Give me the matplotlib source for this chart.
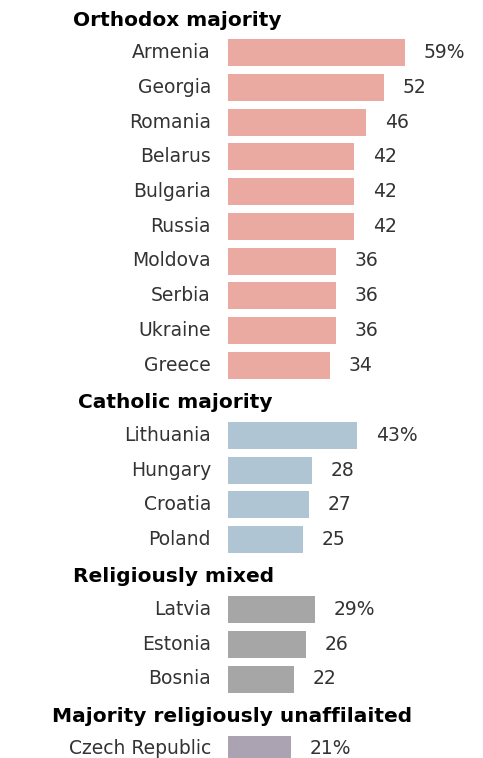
import matplotlib.pyplot as plt

# Share of adults in each country (percent), grouped by religious makeup
groups = ["Orthodox majority", "Catholic majority", "Religiously mixed",
          "Majority religiously unaffilaited"]
orthodox_countries = ["Armenia", "Georgia", "Romania", "Belarus", "Bulgaria",
                      "Russia", "Moldova", "Serbia", "Ukraine", "Greece"]
orthodox_values = [59, 52, 46, 42, 42, 42, 36, 36, 36, 34]
catholic_countries = ["Lithuania", "Hungary", "Croatia", "Poland"]
catholic_values = [43, 28, 27, 25]
mixed_countries = ["Latvia", "Estonia", "Bosnia"]
mixed_values = [29, 26, 22]
unaffiliated_countries = ["Czech Republic"]
unaffiliated_values = [21]

colors = ["#eaa9a1", "#afc5d4", "#a6a6a6", "#aba3b2"]
header_x = [-51.7, -50.0, -51.7, -58.7]

sections = [
    (orthodox_countries, orthodox_values),
    (catholic_countries, catholic_values),
    (mixed_countries, mixed_values),
    (unaffiliated_countries, unaffiliated_values),
]

plt.rcParams["font.family"] = ["DejaVu Sans"]

fig = plt.figure(figsize=(4.83, 7.58), dpi=100)
ax = fig.add_axes([0, 0, 1, 1])
ax.set_xlim(-76, 85)
ax.set_ylim(758, 0)
ax.axis("off")

row_step = 34.75
y = 20
for i, (names, vals) in enumerate(sections):
    ax.text(header_x[i], y, groups[i], fontsize=14.5, fontweight="bold",
            color="black", va="center", ha="left")
    y += 32.5
    for j, (name, v) in enumerate(zip(names, vals)):
        ax.barh(y, v, height=27, color=colors[i], left=0)
        ax.text(-5.7, y, name, fontsize=13.5, color="#333333",
                va="center", ha="right")
        lab = f"{v}%" if j == 0 else f"{v}"
        ax.text(v + 6.3, y, lab, fontsize=13.5, color="#333333",
                va="center", ha="left")
        y += row_step
    y += 37.5 - row_step

fig.savefig("out.png", dpi=100)
